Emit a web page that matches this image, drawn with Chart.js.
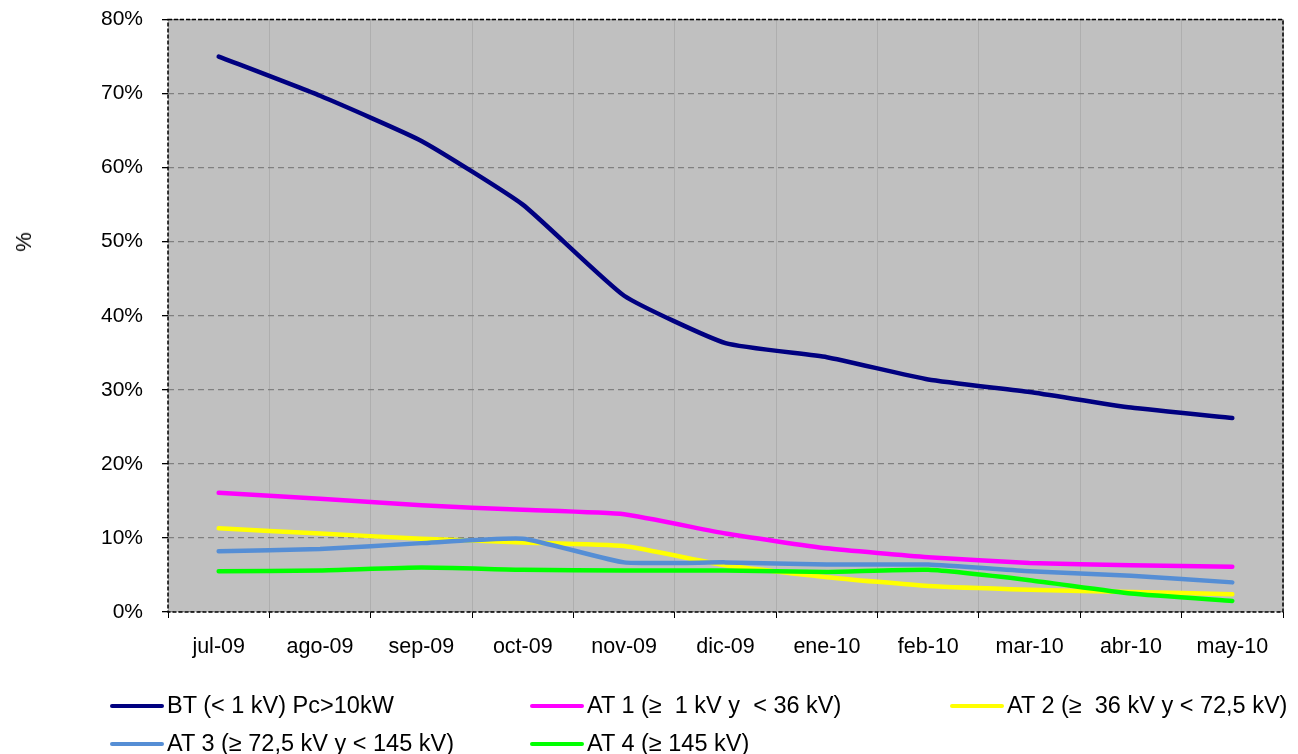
<!DOCTYPE html>
<html>
<head>
<meta charset="utf-8">
<script src="https://cdn.jsdelivr.net/npm/chart.js@4"></script>
<style>
  body { margin: 0; background: #fff; }
  #wrap { position: relative; width: 1298px; height: 754px; font-family: "Liberation Sans", Arial, sans-serif; }
  #chart { position: absolute; left: 0; top: 0; }
  #ytitle { position: absolute; left: 24px; top: 242px; font-size: 22px; transform: translate(-50%, -50%) rotate(-90deg); }
  .leg { position: absolute; display: flex; align-items: center; font-size: 23.5px; white-space: pre; color: #000; }
  .leg span.l { display: inline-block; width: 54px; height: 4px; border-radius: 2px; margin-right: 3px; }
</style>
</head>
<body>
<div id="wrap">
  <canvas id="chart" width="1298" height="754"></canvas>
  <div id="ytitle">%</div>
  <div id="legend"></div>
</div>
<script>
// months on the x axis
const months = ['jul-09', 'ago-09', 'sep-09', 'oct-09', 'nov-09', 'dic-09', 'ene-10', 'feb-10', 'mar-10', 'abr-10', 'may-10'];

// series values in %
const bt  = [75.0, 69.7, 63.6, 55.0, 42.7, 36.3, 34.4, 31.4, 29.7, 27.6, 26.2];
const at1 = [16.1, 15.3, 14.4, 13.8, 13.2, 10.6, 8.6, 7.4, 6.6, 6.3, 6.1];
const at2 = [11.3, 10.6, 9.9, 9.4, 8.9, 6.3, 4.7, 3.5, 3.0, 2.7, 2.4];
const at3 = [8.2, 8.5, 9.3, 9.9, 6.7, 6.7, 6.4, 6.4, 5.5, 4.9, 4.0];
const at4 = [5.5, 5.6, 6.0, 5.7, 5.6, 5.6, 5.4, 5.7, 4.3, 2.5, 1.5];

const seriesLabels = ['BT (< 1 kV) Pc>10kW', 'AT 1 (\u2265  1 kV y  < 36 kV)', 'AT 2 (\u2265  36 kV y < 72,5 kV)', 'AT 3 (\u2265 72,5 kV y < 145 kV)', 'AT 4 (\u2265 145 kV)'];
const seriesColors = ['#000080', '#FF00FF', '#FFFF00', '#558ED5', '#00FF00'];
const seriesData = [bt, at1, at2, at3, at4];

const yTicks = [0, 10, 20, 30, 40, 50, 60, 70, 80];

// grey plot background
const plotBg = {
  id: 'plotBg',
  beforeDraw(chart) {
    const a = chart.chartArea, ctx = chart.ctx;
    ctx.save();
    ctx.fillStyle = '#C0C0C0';
    ctx.fillRect(a.left, a.top, a.right - a.left, a.bottom - a.top);
    ctx.restore();
  }
};

// dashed black frame round the plot
const frame = {
  id: 'frame',
  afterDraw(chart) {
    const a = chart.chartArea, ctx = chart.ctx;
    ctx.save();
    ctx.strokeStyle = '#000';
    ctx.lineWidth = 1.5;
    ctx.setLineDash([4, 2]);
    ctx.strokeRect(a.left, a.top, a.right - a.left, a.bottom - a.top);
    ctx.restore();
  }
};

const datasets = seriesData.map((d, i) => ({
  label: seriesLabels[i],
  data: d,
  borderColor: seriesColors[i],
  backgroundColor: seriesColors[i],
  borderWidth: 4.5,
  borderCapStyle: 'round',
  borderJoinStyle: 'round',
  pointRadius: 0,
  tension: 0.15,
  order: seriesData.length - i
}));

new Chart(document.getElementById('chart'), {
  type: 'line',
  data: { labels: months, datasets: datasets },
  options: {
    responsive: false,
    animation: false,
    layout: { padding: { top: 19.5, right: 15, left: 0, bottom: 0 } },
    plugins: { legend: { display: false }, tooltip: { enabled: false } },
    scales: {
      x: {
        offset: true,
        grid: { offset: true, color: '#AEAEAE', lineWidth: 1, tickColor: '#000', tickLength: 6 },
        border: { display: false },
        ticks: { color: '#000', font: { family: 'Liberation Sans', size: 21.5 }, padding: 16, maxRotation: 0 },
        afterFit: s => { s.height = 142; s.paddingLeft = 0; s.paddingRight = 0; }
      },
      y: {
        min: 0,
        max: 80,
        afterBuildTicks: s => { s.ticks = yTicks.map(v => ({ value: v })); },
        grid: { color: '#808080', lineWidth: 1.3, tickColor: '#000', tickLength: 6 },
        border: { display: false, dash: [6, 4] },
        ticks: { color: '#000', font: { family: 'Liberation Sans', size: 21 }, padding: 19, callback: v => v + '%' },
        afterFit: s => { s.width = 168; s.paddingTop = 0; s.paddingBottom = 0; }
      }
    }
  },
  plugins: [plotBg, frame]
});

// legend in fixed columns like the original
const legendPos = [[110, 706], [530, 706], [950, 706], [110, 744], [530, 744]];
const legend = document.getElementById('legend');
seriesLabels.forEach((lab, i) => {
  const el = document.createElement('div');
  el.className = 'leg';
  el.style.left = legendPos[i][0] + 'px';
  el.style.top = (legendPos[i][1] - 14) + 'px';
  el.innerHTML = '<span class="l" style="background:' + seriesColors[i] + '"></span>' + lab;
  legend.appendChild(el);
});
</script>
</body>
</html>
